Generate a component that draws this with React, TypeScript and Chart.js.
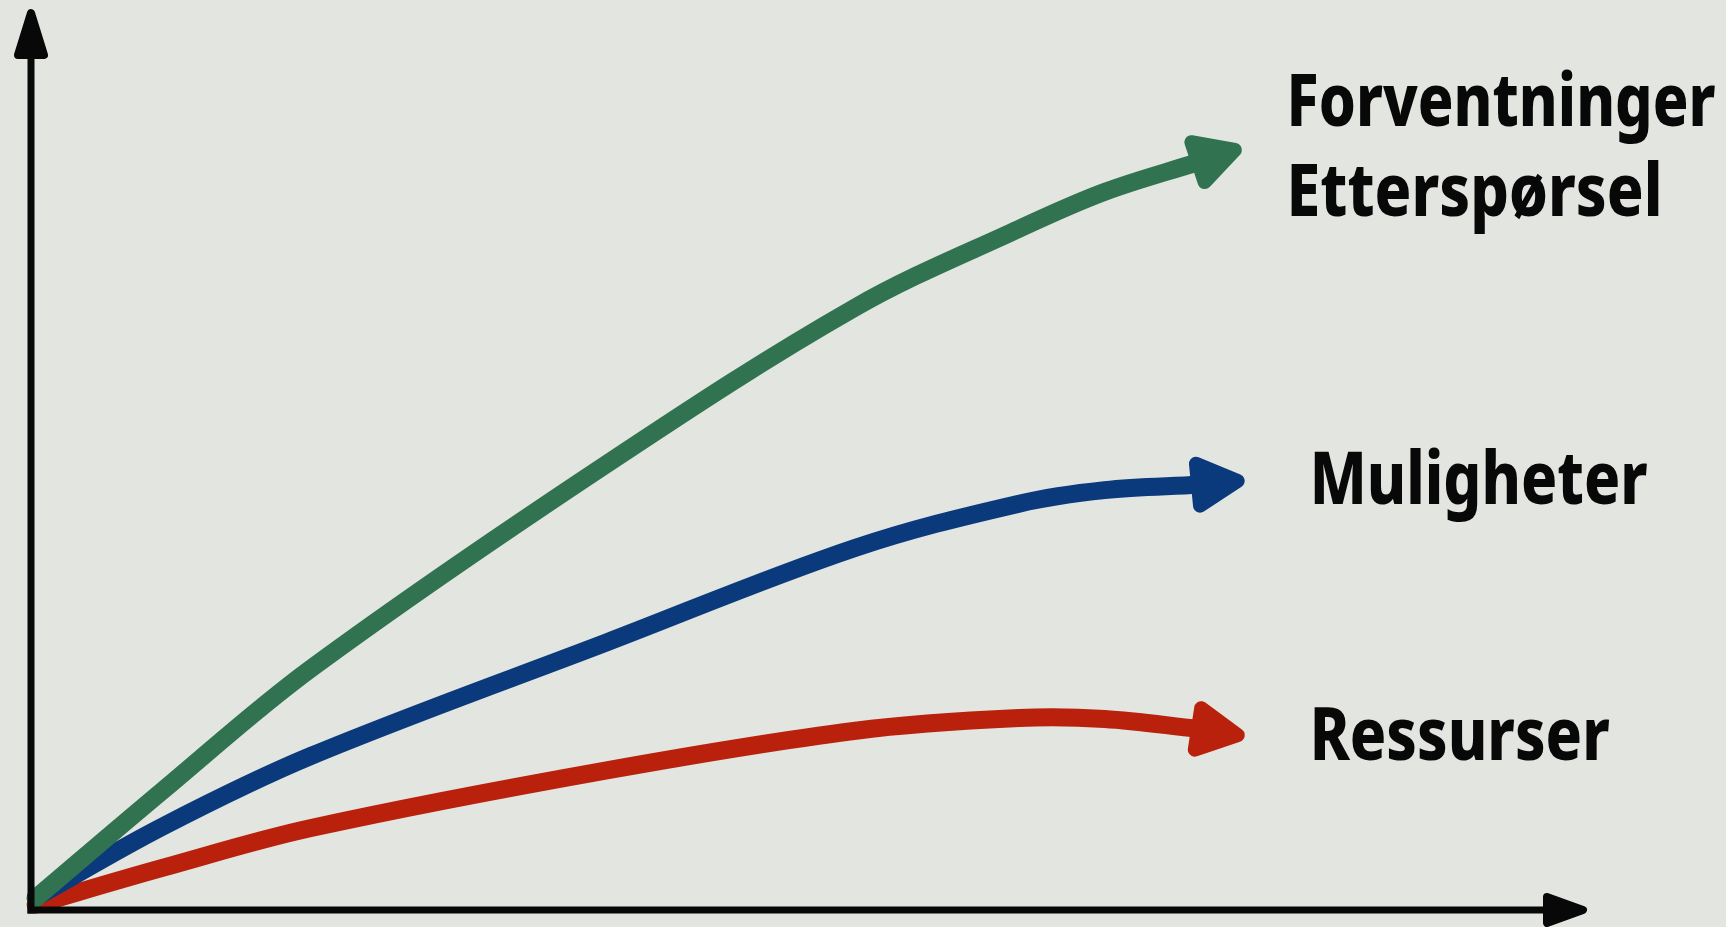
import { useEffect, useRef } from "react";
import { Chart, registerables } from "chart.js";

Chart.register(...registerables);

// ---- data (x = time, y = level, both 0..100) ----
const timeSteps = [0.3, 8.5, 18, 37, 53, 63.5, 69, 75];
const forventninger = [1.3, 13.3, 26.8, 49.5, 66.9, 75.6, 79.7, 83.0];
const muligheter = [1.4, 9.3, 17.1, 29.7, 40.2, 45.1, 46.6, 47.2];
const ressurser = [0.6, 4.7, 9.1, 15.5, 19.9, 21.3, 21.2, 20.1];
const arrowTipX = [77.8, 78.0, 78.0];
const arrowTipY = [84.6, 47.7, 19.3];
const seriesNames = ["Forventninger / Etterspørsel", "Muligheter", "Ressurser"];
const labelLines = [["Forventninger", "Etterspørsel"], ["Muligheter"], ["Ressurser"]];

// ---- styles / layout ----
const BG = "#e2e5e0";
const INK = "#080808";
const COLORS = ["#317350", "#0b3a7c", "#b9210d"];
const LABEL_OFFSET_X = [45, 65, 65];
const LABEL_WIDTHS = [[429, 376], [338], [300]];
const LABEL_FONT = '800 74px "Noto Sans", "Open Sans", sans-serif';
const LINE_GAP = 90;

function drawHead(ctx: CanvasRenderingContext2D, bx: number, by: number, tx: number, ty: number, halfW: number, round: number, color: string) {
  const dx = tx - bx, dy = ty - by;
  const len = Math.hypot(dx, dy) || 1;
  const ux = dx / len, uy = dy / len;
  const px = -uy, py = ux;
  const tipX = tx - ux * round, tipY = ty - uy * round;
  ctx.save();
  ctx.fillStyle = color;
  ctx.strokeStyle = color;
  ctx.lineJoin = "round";
  ctx.lineWidth = round * 2;
  ctx.beginPath();
  ctx.moveTo(tipX, tipY);
  ctx.lineTo(bx + px * halfW, by + py * halfW);
  ctx.lineTo(bx - px * halfW, by - py * halfW);
  ctx.closePath();
  ctx.fill();
  ctx.stroke();
  ctx.restore();
}

const overlay = {
  id: "overlay",
  afterDatasetsDraw(chart: any) {
    const { ctx } = chart;
    const xs = chart.scales.x, ys = chart.scales.y;
    const x0 = xs.getPixelForValue(0), y0 = ys.getPixelForValue(0);
    const xEnd = xs.getPixelForValue(100), yEnd = ys.getPixelForValue(100);

    // axes
    ctx.save();
    ctx.strokeStyle = INK;
    ctx.lineWidth = 7;
    ctx.beginPath();
    ctx.moveTo(x0, y0 + 3.5);
    ctx.lineTo(x0, yEnd + 40);
    ctx.stroke();
    ctx.beginPath();
    ctx.moveTo(x0 - 3.5, y0);
    ctx.lineTo(xEnd - 35, y0);
    ctx.stroke();
    ctx.restore();
    drawHead(ctx, x0, yEnd + 46, x0, yEnd, 13, 4, INK);
    drawHead(ctx, xEnd - 40, y0, xEnd, y0, 13, 4, INK);

    // series arrowheads
    chart.data.datasets.forEach((ds: any, i: number) => {
      const last = ds.data[ds.data.length - 1];
      const bx = xs.getPixelForValue(last.x), by = ys.getPixelForValue(last.y);
      const tx = xs.getPixelForValue(arrowTipX[i]), ty = ys.getPixelForValue(arrowTipY[i]);
      drawHead(ctx, bx, by, tx, ty, 21, 7, COLORS[i]);
    });

    // labels
    ctx.save();
    ctx.font = LABEL_FONT;
    ctx.fillStyle = INK;
    ctx.textBaseline = "alphabetic";
    labelLines.forEach((lines, i) => {
      const tx = xs.getPixelForValue(arrowTipX[i]);
      const ty = ys.getPixelForValue(arrowTipY[i]);
      const left = tx + LABEL_OFFSET_X[i];
      const capH = 53;
      const blockH = capH + (lines.length - 1) * LINE_GAP;
      const firstBase = ty - blockH / 2 + capH - 3;
      lines.forEach((t, j) => {
        const w = ctx.measureText(t).width || 1;
        ctx.save();
        ctx.translate(left, firstBase + j * LINE_GAP);
        ctx.scale(LABEL_WIDTHS[i][j] / w, 1);
        ctx.fillText(t, 0, 0);
        ctx.restore();
      });
    });
    ctx.restore();
  },
};

export default function App() {
  const ref = useRef<HTMLCanvasElement | null>(null);
  useEffect(() => {
    if (!ref.current) return;
    const series = [forventninger, muligheter, ressurser];
    const chart = new Chart(ref.current, {
      type: "line",
      data: {
        datasets: series.map((vals, i) => ({
          label: seriesNames[i],
          data: timeSteps.map((t, k) => ({ x: t, y: vals[k] })),
          borderColor: COLORS[i],
          backgroundColor: COLORS[i],
          borderWidth: 18,
          borderCapStyle: "round",
          borderJoinStyle: "round",
          pointRadius: 0,
          tension: 0.35,
          fill: false,
          clip: false,
        })),
      } as any,
      options: {
        animation: false,
        responsive: true,
        maintainAspectRatio: false,
        devicePixelRatio: 1,
        layout: { padding: { left: 31, right: 139, top: 9, bottom: 17 } },
        scales: {
          x: { type: "linear", min: 0, max: 100, display: false },
          y: { type: "linear", min: 0, max: 100, display: false },
        },
        plugins: { legend: { display: false }, tooltip: { enabled: false } },
        events: [],
      },
      plugins: [overlay],
    });
    return () => chart.destroy();
  }, []);
  return (
    <div style={{ position: "fixed", left: 0, top: 0, width: "100vw", height: "100vh", background: BG }}>
      <canvas ref={ref} />
    </div>
  );
}
